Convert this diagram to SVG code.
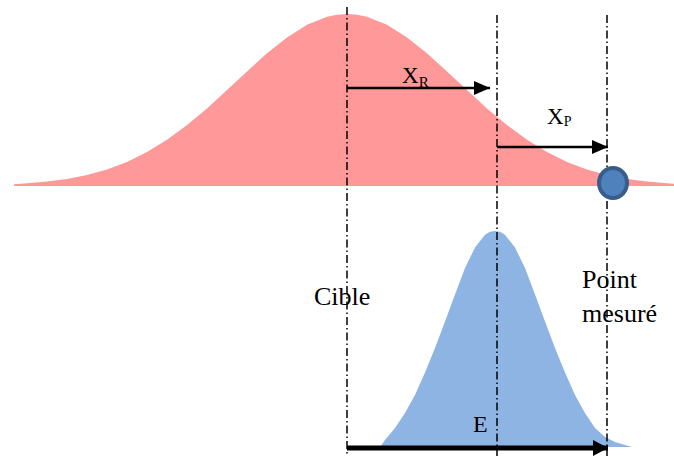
<svg xmlns="http://www.w3.org/2000/svg" width="674" height="456" viewBox="0 0 674 456">
<style>
text{font-family:"Liberation Serif","DejaVu Serif",serif;fill:#000}
.guide{stroke:#000;stroke-width:1.5;stroke-dasharray:8 3 1.5 3;fill:none}
.arr{stroke:#000;fill:none}
</style>
<defs>
<marker id="ah" markerUnits="userSpaceOnUse" markerWidth="16" markerHeight="14" refX="16" refY="7" orient="auto">
<path d="M0,0 L16,7 L0,14 Z" fill="#000"/>
</marker>
<marker id="ahE" markerUnits="userSpaceOnUse" markerWidth="15" markerHeight="16" refX="15" refY="8" orient="auto">
<path d="M0,0 L15,8 L0,16 Z" fill="#000"/>
</marker>
</defs>
<g id="red-curve">
<path fill="#FF9999" d="M14,186 L14,184.3 L27,183.3 L47,181.5 L67,178.9 L87,174.9 L107,169.4 L127,161.9 L147,152.1 L167,139.8 L187,125.1 L207,108.4 L227,90.1 L247,71.4 L267,53.3 L287,37.4 L307,24.8 L327,16.8 L337,14.7 L347,14 L357,14.7 L367,16.8 L387,24.8 L407,37.4 L427,53.3 L447,71.4 L467,90.1 L487,108.4 L507,125.1 L527,139.8 L547,152.1 L567,161.9 L587,169.4 L607,174.9 L627,178.9 L647,181.5 L667,183.3 L674,183.7 L674,186 Z"/>
</g>
<g id="blue-curve">
<path fill="#8EB4E3" d="M380,447 L385,440 L395,428 L405,413 L415,395 L425,372.4 L435,348.1 L445,321.4 L455,294.4 L465,268 L475,247.5 L485,234.8 L490,231.8 L495,231 L500,231.8 L505,234.8 L515,247.5 L525,268 L535,294.4 L545,321.4 L555,348.1 L565,372.4 L575,395 L585,413 L595,428 L605,437 L615,442 L625,445 L632,447 Z"/>
</g>
<g id="connectors">
<line class="guide" x1="347" y1="7" x2="347" y2="456"/>
<line class="guide" x1="497" y1="15" x2="497" y2="456"/>
<line class="guide" x1="607" y1="15" x2="607" y2="456"/>
<line class="arr" x1="347" y1="88" x2="490" y2="88" stroke-width="2.5" marker-end="url(#ah)"/>
<line class="arr" x1="497" y1="147" x2="608" y2="147" stroke-width="2.5" marker-end="url(#ah)"/>
<line class="arr" x1="347" y1="448" x2="608" y2="448" stroke-width="5" marker-end="url(#ahE)"/>
</g>
<g id="point">
<ellipse cx="613" cy="183" rx="14" ry="15" fill="#4F81BD" stroke="#385D8A" stroke-width="4"/>
</g>
<g id="label-xr"><text x="402" y="83" font-size="23">X<tspan font-size="15" dy="4">R</tspan></text></g>
<g id="label-xp"><text x="547" y="124" font-size="23">X<tspan font-size="14" dy="2">P</tspan></text></g>
<g id="label-cible"><text x="314" y="305" font-size="26">Cible</text></g>
<g id="label-point"><text x="582" y="288" font-size="26">Point</text><text x="582" y="322" font-size="26">mesuré</text></g>
<g id="label-e"><text x="473" y="432" font-size="24">E</text></g>
</svg>
